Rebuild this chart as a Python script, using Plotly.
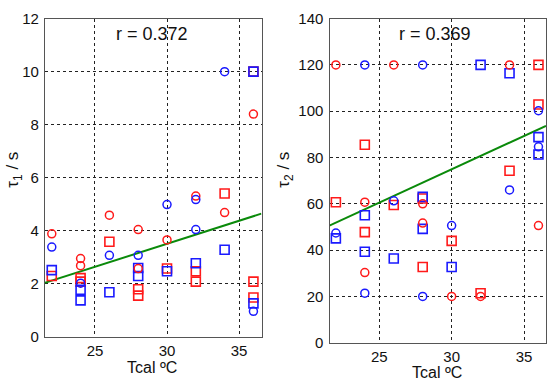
import plotly.graph_objects as go

# ---------------- data: panel 1 (tau1) ----------------
t1_red_circ_x = [22, 24, 24, 26, 28, 28, 30, 32, 34, 36]
t1_red_circ_y = [3.89, 2.96, 2.69, 4.59, 4.05, 2.58, 3.66, 5.31, 4.69, 8.40]
t1_red_sq_x = [22, 24, 24, 26, 28, 28, 30, 32, 32, 34, 36, 36, 36]
t1_red_sq_y = [2.30, 2.22, 2.09, 3.59, 1.80, 1.56, 2.58, 2.48, 2.09, 5.41, 10.0, 2.09, 1.49]
t1_blue_circ_x = [22, 24, 26, 28, 30, 32, 32, 34, 36]
t1_blue_circ_y = [3.39, 2.03, 3.08, 3.08, 4.99, 5.18, 4.05, 10.0, 0.97]
t1_blue_sq_x = [22, 24, 24, 26, 28, 28, 30, 32, 34, 36, 36]
t1_blue_sq_y = [2.52, 1.78, 1.38, 1.69, 2.60, 2.30, 2.48, 2.78, 3.29, 10.0, 1.27]
t1_fit_x = [21.5, 36.55]
t1_fit_y = [2.04, 4.65]
t1_r = "r = 0.372"

# ---------------- data: panel 2 (tau2) ----------------
t2_red_circ_x = [22, 24, 24, 26, 28, 28, 30, 32, 34, 36]
t2_red_circ_y = [120, 60.7, 30.3, 120, 60.0, 51.7, 20.0, 20.0, 120, 50.6]
t2_red_sq_x = [22, 24, 24, 26, 28, 28, 30, 32, 34, 36, 36]
t2_red_sq_y = [60.7, 85.5, 47.8, 59.5, 62.3, 32.7, 44.0, 21.4, 74.3, 120, 102.9]
t2_blue_circ_x = [22, 24, 24, 26, 28, 28, 30, 34, 36, 36]
t2_blue_circ_y = [47.4, 120, 21.4, 61.3, 120, 20.0, 50.6, 66.0, 100.2, 84.6]
t2_blue_sq_x = [22, 24, 24, 26, 28, 28, 30, 32, 34, 36, 36]
t2_blue_sq_y = [45.1, 55.1, 39.3, 36.4, 63.0, 49.2, 32.7, 120, 116.4, 88.8, 81.3]
t2_fit_x = [21.55, 36.52]
t2_fit_y = [50.6, 93.7]
t2_r = "r = 0.369"

x_ticks = [25, 30, 35]
y1_ticks = [0, 2, 4, 6, 8, 10, 12]
y2_ticks = [0, 20, 40, 60, 80, 100, 120, 140]

RED = "#ff1a1a"
BLUE = "#1a1aff"
GREEN = "#0a8a0a"
FONT = "Liberation Sans, Arial, sans-serif"

W, H = 550, 390


def px(x):
    return x / W


def py(y):
    return 1 - y / H


fig = go.Figure()


def add_panel(xa, ya, rcx, rcy, rsx, rsy, bcx, bcy, bsx, bsy, fx, fy):
    common = dict(mode="markers", xaxis=xa, yaxis=ya, showlegend=False, hoverinfo="x+y")
    fig.add_trace(go.Scatter(x=fx, y=fy, mode="lines", xaxis=xa, yaxis=ya,
                             line=dict(color=GREEN, width=2), showlegend=False))
    fig.add_trace(go.Scatter(x=rsx, y=rsy, marker=dict(symbol="square-open", size=9,
                             color=RED, line=dict(width=1.6)), **common))
    fig.add_trace(go.Scatter(x=bsx, y=bsy, marker=dict(symbol="square-open", size=9,
                             color=BLUE, line=dict(width=1.6)), **common))
    fig.add_trace(go.Scatter(x=rcx, y=rcy, marker=dict(symbol="circle-open", size=8,
                             color=RED, line=dict(width=1.5)), **common))
    fig.add_trace(go.Scatter(x=bcx, y=bcy, marker=dict(symbol="circle-open", size=8,
                             color=BLUE, line=dict(width=1.5)), **common))


add_panel("x", "y", t1_red_circ_x, t1_red_circ_y, t1_red_sq_x, t1_red_sq_y,
          t1_blue_circ_x, t1_blue_circ_y, t1_blue_sq_x, t1_blue_sq_y, t1_fit_x, t1_fit_y)
add_panel("x2", "y2", t2_red_circ_x, t2_red_circ_y, t2_red_sq_x, t2_red_sq_y,
          t2_blue_circ_x, t2_blue_circ_y, t2_blue_sq_x, t2_blue_sq_y, t2_fit_x, t2_fit_y)

axis_common = dict(showline=True, mirror=True, linecolor="#555", linewidth=1.3,
                   showgrid=True, gridcolor="#222", griddash="dot", gridwidth=1,
                   zeroline=False, ticks="", tickfont=dict(family=FONT, size=15, color="#111"))

fig.update_layout(
    width=W, height=H,
    margin=dict(l=0, r=0, t=0, b=0),
    paper_bgcolor="white", plot_bgcolor="white",
    font=dict(family=FONT, color="#111"),
    xaxis=dict(domain=[px(45), px(261.5)], range=[21.53, 36.56], tickvals=x_ticks,
               anchor="y", ticklabelstandoff=0, **axis_common),
    yaxis=dict(domain=[py(343), py(10)], range=[0, 12], tickvals=y1_ticks,
               anchor="x", ticklabelstandoff=2, **axis_common),
    xaxis2=dict(domain=[px(329.5), px(546)], range=[21.56, 36.52], tickvals=x_ticks,
                anchor="y2", ticklabelstandoff=0, **axis_common),
    yaxis2=dict(domain=[py(349), py(10)], range=[0, 140], tickvals=y2_ticks,
                anchor="x2", ticklabelstandoff=2, **axis_common),
)

ann_font = dict(family=FONT, size=18, color="#111")
title_font = dict(family=FONT, size=16, color="#111")
annotations = [
    dict(text=t1_r, x=px(152), y=py(26), xref="paper", yref="paper",
         showarrow=False, font=ann_font, xanchor="center", yanchor="middle"),
    dict(text=t2_r, x=px(435), y=py(26), xref="paper", yref="paper",
         showarrow=False, font=ann_font, xanchor="center", yanchor="middle"),
    dict(text="Tcal ºC", x=px(152), y=py(375), xref="paper", yref="paper",
         showarrow=False, font=title_font, xanchor="center", yanchor="middle"),
    dict(text="Tcal ºC", x=px(437), y=py(380.5), xref="paper", yref="paper",
         showarrow=False, font=title_font, xanchor="center", yanchor="middle"),
    dict(text="τ<sub>1</sub> / s", x=px(14), y=py(168), xref="paper", yref="paper",
         showarrow=False, font=dict(family=FONT, size=17, color="#111"), textangle=-90,
         xanchor="center", yanchor="middle"),
    dict(text="τ<sub>2</sub> / s", x=px(285), y=py(168), xref="paper", yref="paper",
         showarrow=False, font=dict(family=FONT, size=17, color="#111"), textangle=-90,
         xanchor="center", yanchor="middle"),
]
fig.update_layout(annotations=annotations)

# remove the default 8px page margin so the figure sits at the window origin
fig.write_html("out.html", config={"displayModeBar": False},
               post_script="document.body.style.margin='0';document.body.style.overflow='hidden';")
